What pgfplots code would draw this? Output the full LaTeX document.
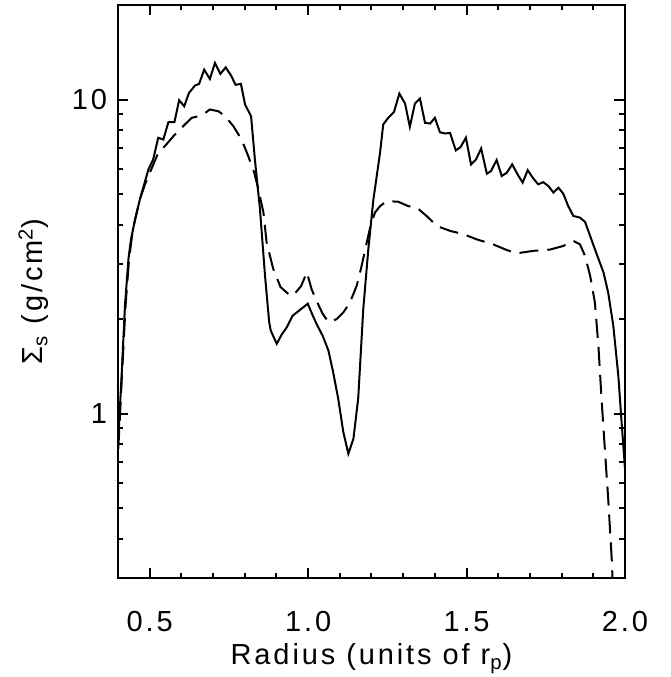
\documentclass[border=0pt]{standalone}
\usepackage{fontspec}
\setmainfont{Liberation Sans}[LetterSpace=10]
\usepackage{pgfplots}
\pgfplotsset{compat=1.18}

\begin{document}
\begin{tikzpicture}
% frame of the whole picture (671 x 677 px at 0.5pt per px)
\path[use as bounding box] (-59pt,-49.5pt) rectangle (276.5pt,289pt);
\begin{axis}[
    scale only axis,
    width=253.5pt,
    height=286.5pt,
    xmin=0.4, xmax=2.0,
    ymode=log,
    ymin=0.3, ymax=20,
    axis line style={line width=1.1pt},
    xtick={0.5,1.0,1.5,2.0},
    xticklabels={0.5,1.0,1.5,2.0},
    minor xtick={0.4,0.6,0.7,0.8,0.9,1.1,1.2,1.3,1.4,1.6,1.7,1.8,1.9},
    ytick={1,10},
    yticklabels={1,10},
    minor ytick={0.3,0.4,0.5,0.6,0.7,0.8,0.9,2,3,4,5,6,7,8,9,20},
    tick align=inside,
    major tick length=5.25pt,
    minor tick length=2.75pt,
    every tick/.style={black,line width=1pt},
    tick label style={font=\fontsize{14.5}{16}\selectfont},
    xticklabel style={yshift=-13pt},
    yticklabel style={xshift=-2pt},
    label style={font=\fontsize{14.5}{16}\selectfont},
    xlabel={Radius (units of r\textsubscript{p})},
    ylabel={Σ\textsubscript{s} (g/cm\textsuperscript{2})},
    xlabel style={at={(axis description cs:0.5,-0.1518)},anchor=base},
    ylabel style={at={(axis description cs:-0.148,0.5)},anchor=base},
]
\addplot[black,line width=1pt] coordinates {
(0.401,0.833)(0.412,1.36)(0.422,2.21)(0.433,3.11)(0.441,3.59)(0.454,4.16)
(0.469,4.81)(0.496,5.99)(0.511,6.45)(0.527,7.56)(0.543,7.46)(0.559,8.47)
(0.578,8.47)(0.593,9.95)(0.609,9.52)(0.624,10.5)(0.643,11.08)(0.656,11.22)
(0.672,12.45)(0.690,11.63)(0.706,13.08)(0.723,12.07)(0.740,12.66)(0.757,11.92)
(0.771,11.14)(0.788,11.22)(0.801,9.64)(0.820,8.85)(0.832,6.45)(0.848,4.48)
(0.864,2.75)(0.877,1.96)(0.882,1.84)(0.901,1.67)(0.917,1.79)(0.932,1.88)
(0.951,2.05)(0.974,2.14)(0.999,2.24)(1.014,2.06)(1.029,1.91)(1.046,1.77)
(1.064,1.59)(1.079,1.356)(1.095,1.116)(1.111,0.875)(1.127,0.746)(1.143,0.833)
(1.158,1.116)(1.174,2.15)(1.190,3.34)(1.206,4.81)(1.227,6.77)(1.237,8.33)
(1.253,8.75)(1.271,9.13)(1.288,10.45)(1.306,9.71)(1.321,8.19)(1.337,9.71)
(1.353,10.07)(1.369,8.43)(1.385,8.39)(1.400,8.75)(1.416,7.87)(1.432,7.80)
(1.448,7.83)(1.466,6.89)(1.481,7.06)(1.498,7.56)(1.514,6.22)(1.530,6.45)
(1.546,6.99)(1.564,5.81)(1.577,5.92)(1.595,6.42)(1.611,5.71)(1.627,5.85)
(1.644,6.22)(1.661,5.78)(1.677,5.44)(1.693,5.96)(1.709,5.64)(1.726,5.37)
(1.742,5.46)(1.758,5.31)(1.774,5.06)(1.790,5.24)(1.805,5.02)(1.821,4.58)
(1.837,4.26)(1.858,4.21)(1.874,4.08)(1.890,3.68)(1.905,3.34)(1.932,2.82)
(1.947,2.43)(1.963,1.91)(1.979,1.32)(1.990,0.918)(2.000,0.669)
};
\addplot[black,line width=1pt,dash pattern=on 9.5pt off 4.5pt] coordinates {
(0.401,0.774)(0.413,1.36)(0.424,2.22)(0.435,3.11)(0.447,3.87)(0.469,4.81)
(0.485,5.37)(0.527,6.77)(0.548,7.11)(0.575,7.65)(0.611,8.33)(0.633,8.75)
(0.664,8.90)(0.690,9.30)(0.717,9.18)(0.738,8.85)(0.764,8.23)(0.790,7.46)
(0.811,6.61)(0.830,5.85)(0.843,5.18)(0.859,4.37)(0.869,3.51)(0.890,2.89)
(0.913,2.53)(0.943,2.38)(0.953,2.38)(0.978,2.55)(0.996,2.82)(1.011,2.49)
(1.029,2.26)(1.046,2.08)(1.064,1.96)(1.090,2.00)(1.111,2.10)(1.132,2.26)
(1.153,2.55)(1.169,2.96)(1.185,3.51)(1.197,3.96)(1.211,4.37)(1.227,4.58)
(1.248,4.75)(1.284,4.73)(1.316,4.58)(1.343,4.53)(1.374,4.26)(1.406,3.96)
(1.448,3.82)(1.490,3.73)(1.532,3.59)(1.584,3.46)(1.627,3.32)(1.658,3.24)
(1.711,3.30)(1.763,3.33)(1.805,3.42)(1.837,3.55)(1.858,3.46)(1.874,3.18)
(1.890,2.75)(1.905,2.26)(1.916,1.65)(1.926,1.116)(1.937,0.756)(1.947,0.537)
(1.958,0.347)(1.962,0.278)
};
\end{axis}
\end{tikzpicture}
\end{document}
